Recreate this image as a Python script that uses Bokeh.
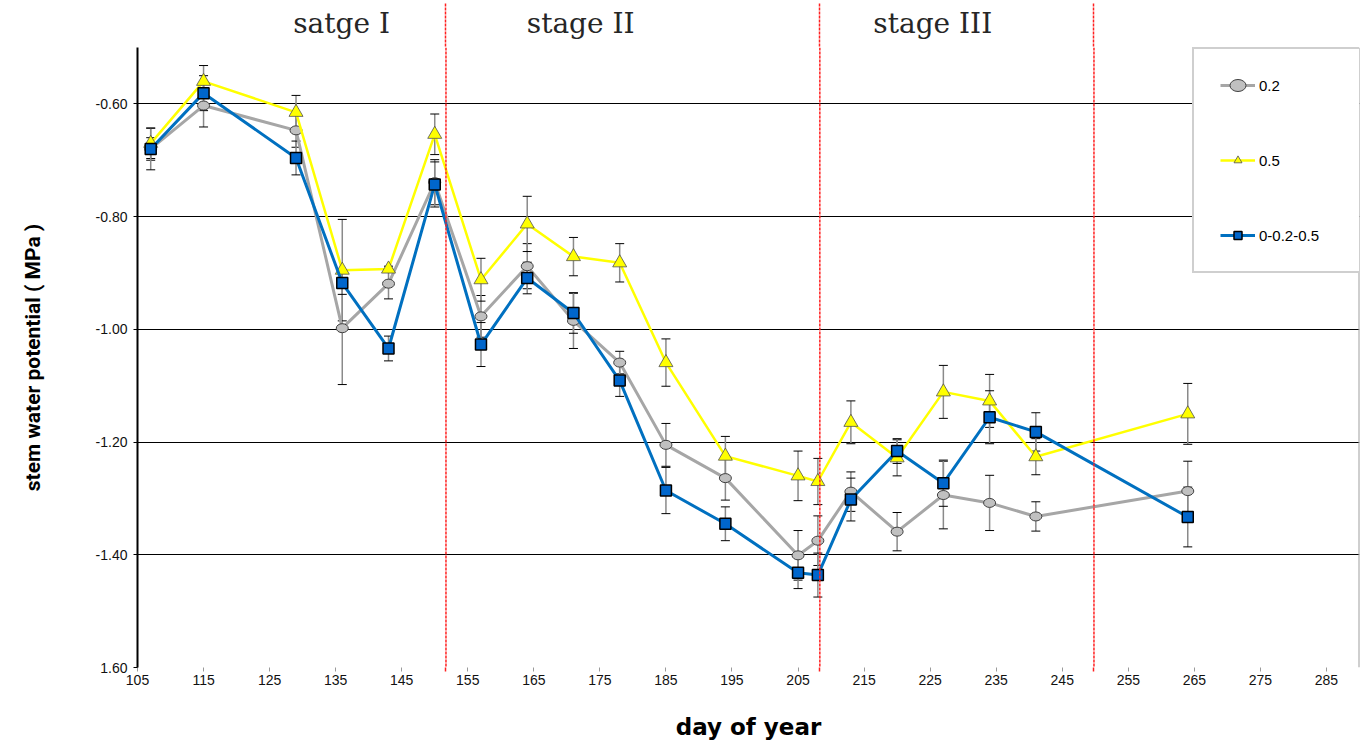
from bokeh.plotting import figure
from bokeh.models import (ColumnDataSource, Range1d, FixedTicker, Whisker, TeeHead,
                          Legend, LegendItem, Span, LinearAxis)
from bokeh.embed import file_html
from bokeh.resources import INLINE

# Sampling dates (day of year)
days = [107, 115, 129, 136, 143, 150, 157, 164, 171, 178,
        185, 194, 205, 208, 213, 220, 227, 234, 241, 264]

# Stem water potential (MPa) per treatment
swp_02 = [-0.680, -0.603, -0.647, -0.998, -0.919, -0.739, -0.977, -0.888, -0.985, -1.059,
          -1.205, -1.264, -1.401, -1.375, -1.288, -1.359, -1.294, -1.308, -1.332, -1.287]
swp_05 = [-0.670, -0.560, -0.615, -0.895, -0.893, -0.654, -0.912, -0.813, -0.871, -0.882,
          -1.059, -1.225, -1.260, -1.270, -1.165, -1.228, -1.111, -1.127, -1.226, -1.150]
swp_mix = [-0.680, -0.581, -0.696, -0.918, -1.034, -0.743, -1.027, -0.909, -0.971, -1.091,
           -1.286, -1.345, -1.432, -1.436, -1.302, -1.216, -1.273, -1.156, -1.182, -1.333]

# Standard errors
err_02 = [0.020, 0.038, 0.030, 0.100, 0.027, 0.040, 0.037, 0.040, 0.049, 0.020,
          0.038, 0.039, 0.044, 0.044, 0.035, 0.034, 0.060, 0.049, 0.026, 0.053]
err_05 = [0.027, 0.028, 0.030, 0.090, 0.005, 0.036, 0.038, 0.049, 0.034, 0.034,
          0.042, 0.035, 0.044, 0.041, 0.038, 0.032, 0.047, 0.047, 0.032, 0.054]
err_mix = [0.037, 0.031, 0.030, 0.020, 0.022, 0.040, 0.039, 0.028, 0.036, 0.028,
           0.041, 0.030, 0.028, 0.039, 0.038, 0.022, 0.041, 0.047, 0.034, 0.053]

series_names = ["0.2", "0.5", "0-0.2-0.5"]

x_ticks = [105, 115, 125, 135, 145, 155, 165, 175, 185, 195,
           205, 215, 225, 235, 245, 255, 265, 275, 285]
y_ticks = [-1.6, -1.4, -1.2, -1.0, -0.8, -0.6]
y_tick_labels = ["1.60", "-1.40", "-1.20", "-1.00", "-0.80", "-0.60"]

stage_bounds = [151.7, 208.3, 249.8]
stage_names = ["satge I", "stage II", "stage III"]
stage_centres = [135.9, 172.1, 225.4]

p = figure(width=1364, height=745,
           x_range=Range1d(105, 290), y_range=Range1d(-1.6, -0.5),
           output_backend="svg", toolbar_location=None,
           min_border_left=137, min_border_right=5,
           min_border_top=47, min_border_bottom=78,
           x_axis_label="day of year", y_axis_label="stem water potential ( MPa )")
p.outline_line_color = None
p.background_fill_color = "white"
p.border_fill_color = "white"

# bottom axis: day ticks, with short red marks continuing the stage boundaries
p.xaxis.ticker = FixedTicker(ticks=x_ticks, minor_ticks=stage_bounds)
p.xaxis.axis_line_color = None
p.xaxis.major_tick_line_color = "#9a9a9a"
p.xaxis.major_tick_out = 4
p.xaxis.major_tick_in = 0
p.xaxis.minor_tick_line_color = "#ff2020"
p.xaxis.minor_tick_line_width = 1.5
p.xaxis.minor_tick_out = 4
p.xaxis.minor_tick_in = 0
p.xaxis.major_label_standoff = 3
p.xaxis.major_label_text_font = "Liberation Sans"
p.xaxis.major_label_text_font_size = "14px"
p.xaxis.major_label_text_color = "#111111"
p.xaxis.axis_label_standoff = 26
p.xaxis.axis_label_text_font = "DejaVu Sans"
p.xaxis.axis_label_text_font_style = "bold"
p.xaxis.axis_label_text_font_size = "23px"
p.xaxis.axis_label_text_color = "black"

p.yaxis.ticker = FixedTicker(ticks=y_ticks)
p.yaxis.major_label_overrides = {t: s for t, s in zip(y_ticks, y_tick_labels)}
p.yaxis.axis_line_color = "black"
p.yaxis.axis_line_width = 2
p.yaxis.major_tick_line_color = "black"
p.yaxis.major_tick_out = 4
p.yaxis.major_tick_in = 0
p.yaxis.minor_tick_line_color = None
p.yaxis.major_label_standoff = 6
p.yaxis.major_label_text_font = "Liberation Sans"
p.yaxis.major_label_text_font_size = "14px"
p.yaxis.major_label_text_color = "#111111"
p.yaxis.axis_label_standoff = 48
p.yaxis.axis_label_text_font = "Roboto"
p.yaxis.axis_label_text_font_style = "bold"
p.yaxis.axis_label_text_font_size = "21px"
p.yaxis.axis_label_text_color = "black"

# top axis: stage titles, with the stage boundaries rising above the plot area
stage_axis = LinearAxis(ticker=FixedTicker(ticks=stage_centres, minor_ticks=stage_bounds),
                        major_label_overrides={c: n for c, n in zip(stage_centres, stage_names)},
                        axis_line_color=None, major_tick_line_color=None,
                        major_tick_out=0, major_tick_in=0,
                        minor_tick_line_color="#ff2020", minor_tick_line_width=1.5,
                        minor_tick_line_dash="3 1", minor_tick_out=44, minor_tick_in=0,
                        major_label_standoff=-36, major_label_text_font="DejaVu Serif",
                        major_label_text_font_size="28px", major_label_text_color="#262626")
p.add_layout(stage_axis, "above")

p.xgrid.visible = False
p.ygrid.ticker = FixedTicker(ticks=[-1.4, -1.2, -1.0, -0.8, -0.6])
p.ygrid.grid_line_color = "black"
p.ygrid.grid_line_width = 1

# right border of plot area
p.add_layout(Span(location=290, dimension="height", line_color="#a0a0a0", line_width=2))

# stage boundaries
for b in stage_bounds:
    p.add_layout(Span(location=b, dimension="height", line_color="#ff2020",
                      line_width=1.5, line_dash="3 1"))

# error bars
for vals, errs in [(swp_02, err_02), (swp_05, err_05), (swp_mix, err_mix)]:
    src = ColumnDataSource(dict(x=days,
                                lo=[v - e for v, e in zip(vals, errs)],
                                hi=[v + e for v, e in zip(vals, errs)]))
    p.add_layout(Whisker(source=src, base="x", lower="lo", upper="hi", dimension="height",
                         line_color="#8a8a8a", line_width=1.5,
                         upper_head=TeeHead(size=9, line_color="black", line_width=1),
                         lower_head=TeeHead(size=9, line_color="black", line_width=1)))

# series
l1 = p.line(days, swp_02, line_color="#a6a6a6", line_width=3)
m1 = p.ellipse(x=days, y=swp_02, width=12, height=9, width_units="screen",
               height_units="screen", fill_color="#c0c0c0", line_color="#404040", line_width=1)
l2 = p.line(days, swp_05, line_color="#ffff00", line_width=2.5)
m2 = p.scatter(days, swp_05, marker="triangle", size=14, fill_color="#ffff00",
               line_color="#505050", line_width=0.8)
l3 = p.line(days, swp_mix, line_color="#0070c0", line_width=3)
m3 = p.scatter(days, swp_mix, marker="square", size=11, fill_color="#0066cc",
               line_color="black", line_width=1.5)

legend = Legend(items=[LegendItem(label=series_names[0], renderers=[l1, m1]),
                       LegendItem(label=series_names[1], renderers=[l2, m2]),
                       LegendItem(label=series_names[2], renderers=[l3, m3])],
                location=(1055, 394), padding=26, spacing=55, margin=0,
                glyph_width=35, glyph_height=20, label_height=20, label_width=76,
                label_standoff=4, label_text_font="Liberation Sans",
                label_text_font_size="15px", label_text_color="black",
                border_line_color="#a0a0a0", border_line_width=2,
                background_fill_color="white", background_fill_alpha=1.0)
p.add_layout(legend)

open("out.html", "w").write(file_html(p, INLINE))
